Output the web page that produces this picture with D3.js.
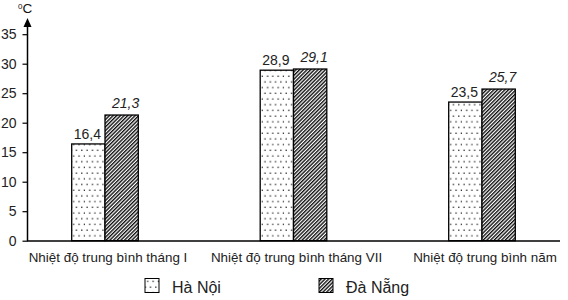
<!DOCTYPE html>
<html><head><meta charset="utf-8">
<script src="https://cdn.jsdelivr.net/npm/d3@7"></script>
<style>body{margin:0;background:#fff}svg{display:block;font-family:"Liberation Sans",Arial,sans-serif}</style>
</head><body>
<svg id="c" width="568" height="300"></svg>
<script>
const categories = ["Nhiệt độ trung bình tháng I", "Nhiệt độ trung bình tháng VII", "Nhiệt độ trung bình năm"];
const seriesNames = ["Hà Nội", "Đà Nẵng"];
const haNoi = [16.4, 28.9, 23.5];
const daNang = [21.3, 29.1, 25.7];
const labelsHaNoi = ["16,4", "28,9", "23,5"];
const labelsDaNang = ["21,3", "29,1", "25,7"];
const yTicks = [0, 5, 10, 15, 20, 25, 30, 35];

const svg = d3.select("#c");
const defs = svg.append("defs");
// dots pattern
const pd = defs.append("pattern").attr("id","dots").attr("patternUnits","userSpaceOnUse")
  .attr("width",10.6).attr("height",11.4);
pd.append("rect").attr("width",10.6).attr("height",11.4).attr("fill","#fff");
[[1.5,1.5],[6.8,1.5],[4.1,7.2],[9.4,7.2]].forEach(p=>pd.append("rect").attr("x",p[0]).attr("y",p[1]).attr("width",1.3).attr("height",1.3).attr("fill","#222"));
// hatch pattern
const ph = defs.append("pattern").attr("id","hatch").attr("patternUnits","userSpaceOnUse")
  .attr("width",2.6).attr("height",2.6).attr("patternTransform","rotate(45)");
ph.append("rect").attr("width",2.6).attr("height",2.6).attr("fill","#fff");
ph.append("rect").attr("x",0).attr("y",0).attr("width",1.4).attr("height",2.6).attr("fill","#111");

const y = d3.scaleLinear().domain([0,35]).range([240.7,34.2]);
const x0 = d3.scaleBand().domain(categories).range([10.75,576.25]).padding(0);
const x1 = d3.scaleBand().domain(seriesNames).range([x0.bandwidth()/2-33.3, x0.bandwidth()/2+33.3]);

// y axis
const ya = svg.append("g").attr("transform","translate(27.5,0)")
  .call(d3.axisLeft(y).tickValues(yTicks).tickSize(5).tickPadding(6).tickFormat(d3.format("d")));
ya.select(".domain").remove();
ya.selectAll(".tick line").attr("stroke","#000").attr("stroke-width",1.2);
ya.selectAll(".tick text").attr("font-size",14).attr("fill","#222").attr("font-family","Liberation Sans, Arial, sans-serif");
svg.append("line").attr("x1",27.5).attr("x2",27.5).attr("y1",241).attr("y2",25)
  .attr("stroke","#000").attr("stroke-width",1.5);
svg.append("path").attr("d","M27.5,18 L31.5,27 L23.5,27 Z").attr("fill","#000");
const unit = svg.append("text").attr("x",18).attr("y",13).attr("font-size",13.5).attr("fill","#111");
unit.append("tspan").attr("font-size",8).attr("dy",-4).text("0");
unit.append("tspan").attr("dy",4).text("C");

// bars
const data = categories.map((c,i)=>({c, vals:[
  {s:seriesNames[0], v:haNoi[i], lab:labelsHaNoi[i], fill:"url(#dots)", italic:false, dx:-1, dy:-5},
  {s:seriesNames[1], v:daNang[i], lab:labelsDaNang[i], fill:"url(#hatch)", italic:true, dx:4, dy:-7}
]}));
const g = svg.selectAll(".grp").data(data).join("g").attr("transform",d=>`translate(${x0(d.c)},0)`);
g.selectAll("rect").data(d=>d.vals).join("rect")
  .attr("x",d=>x1(d.s)).attr("width",x1.bandwidth())
  .attr("y",d=>y(d.v)).attr("height",d=>y(0)-y(d.v))
  .attr("fill",d=>d.fill).attr("stroke","#000").attr("stroke-width",1.3);
g.selectAll("text.val").data(d=>d.vals).join("text").attr("class","val")
  .attr("x",d=>x1(d.s)+x1.bandwidth()/2+d.dx).attr("y",d=>y(d.v)+d.dy)
  .attr("text-anchor","middle").attr("font-size",14).attr("fill","#222")
  .attr("font-style",d=>d.italic?"italic":"normal").text(d=>d.lab);

// x axis line
svg.append("line").attr("x1",27).attr("x2",560).attr("y1",241).attr("y2",241).attr("stroke","#000").attr("stroke-width",1.3);
svg.selectAll("text.cat").data(categories).join("text").attr("class","cat")
  .attr("x",d=>x0(d)+x0.bandwidth()/2+3).attr("y",262).attr("text-anchor","middle")
  .attr("font-size",13.4).attr("fill","#222").text(d=>d);

// legend
const leg = [{n:seriesNames[0], f:"url(#dots)", x:145},{n:seriesNames[1], f:"url(#hatch)", x:319}];
const lg = svg.selectAll("g.leg").data(leg).join("g").attr("class","leg");
lg.append("rect").attr("x",d=>d.x).attr("y",278.5).attr("width",14).attr("height",14)
  .attr("fill",d=>d.f).attr("stroke","#000").attr("stroke-width",1);
lg.append("text").attr("x",d=>d.x+27).attr("y",293).attr("font-size",16).attr("fill","#222").text(d=>d.n);
</script>
</body></html>
